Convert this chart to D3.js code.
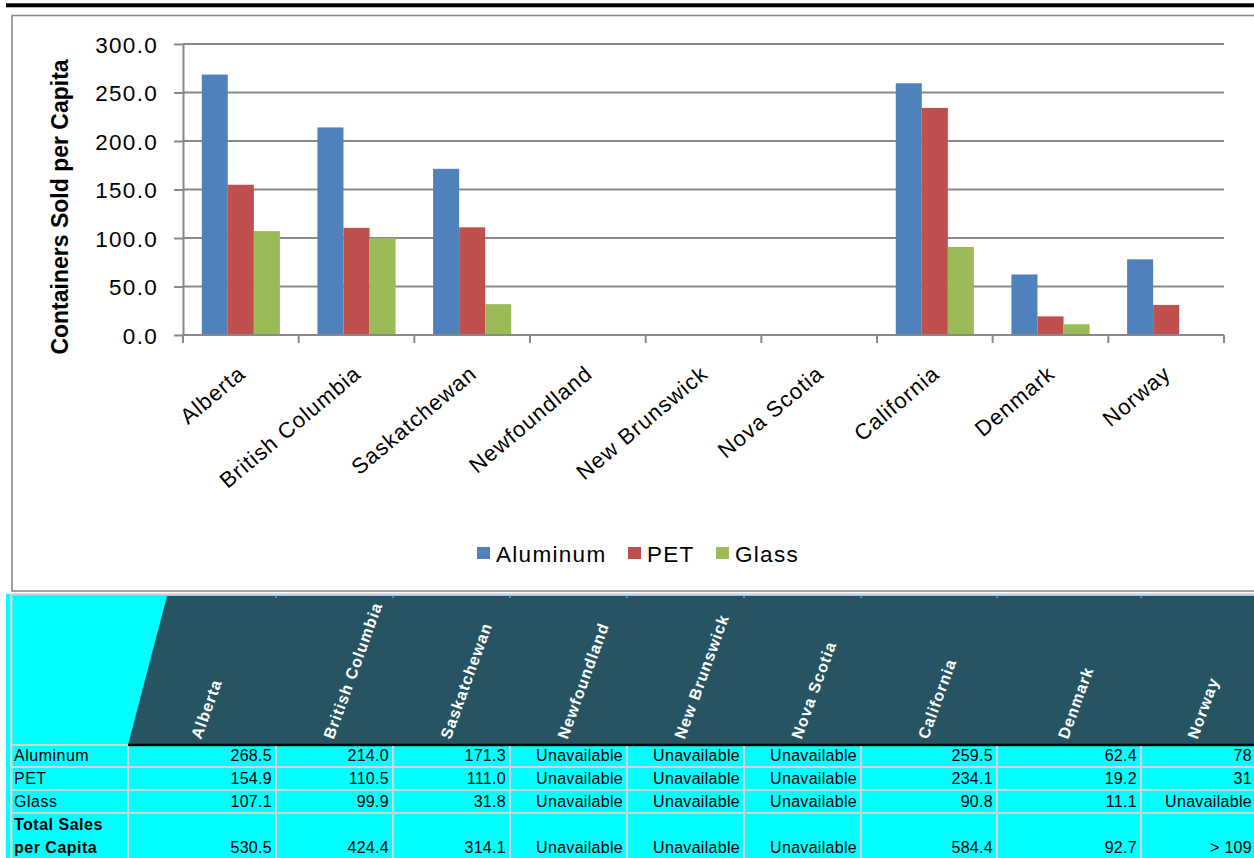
<!DOCTYPE html>
<html>
<head>
<meta charset="utf-8">
<script src="https://cdn.jsdelivr.net/npm/d3@7"></script>
<style>
  html, body { margin: 0; padding: 0; background: #ffffff; }
  svg { display: block; }
  text { font-family: "Liberation Sans", Arial, Helvetica, sans-serif; }
</style>
</head>
<body>
<svg id="chart" width="1254" height="858"></svg>
<script>
// ---------------- DATA ----------------
const categories = ["Alberta", "British Columbia", "Saskatchewan", "Newfoundland", "New Brunswick", "Nova Scotia", "California", "Denmark", "Norway"];
const seriesNames = ["Aluminum", "PET", "Glass"];
const aluminum = [268.5, 214.0, 171.3, null, null, null, 259.5, 62.4, 78];
const pet      = [154.9, 110.5, 111.0, null, null, null, 234.1, 19.2, 31];
const glass    = [107.1, 99.9, 31.8, null, null, null, 90.8, 11.1, null];
const totalSales = ["530.5", "424.4", "314.1", null, null, null, "584.4", "92.7", "> 109"];
const tableDecimals = [1, 1, 1, 1, 1, 1, 1, 1, 0];
const yTicks = [0, 50, 100, 150, 200, 250, 300];
const yTitle = "Containers Sold per Capita";
const unavailableText = "Unavailable";
const totalLabel = ["Total Sales", "per Capita"];

// ---------------- STYLE ----------------
const colors = { Aluminum: "#4F81BD", PET: "#C0504D", Glass: "#9BBB59" };
const gridColor = "#898989";
const cyan = "#00FFFF";
const headerDark = "#275463";
const cellLine = "#d3d3d3";

const svg = d3.select("#chart");

// top black rule
svg.append("rect").attr("x", 6).attr("y", 3.3).attr("width", 1260).attr("height", 4).attr("fill", "#000");

// chart frame
svg.append("rect").attr("x", 12).attr("y", 15.5).attr("width", 1260).attr("height", 575.5)
  .attr("fill", "#fff").attr("stroke", "#8a8a8a").attr("stroke-width", 1.6);

// ---------------- CHART ----------------
const plot = { left: 183, right: 1224, top: 44, bottom: 335 };
const x0 = d3.scaleBand().domain(categories).range([plot.left, plot.right]).padding(0);
const x1 = d3.scaleBand().domain(seriesNames).range([0, x0.bandwidth()]).paddingInner(0).paddingOuter(0.72);
const y = d3.scaleLinear().domain([0, 300]).range([plot.bottom, plot.top]);

const seriesData = { Aluminum: aluminum, PET: pet, Glass: glass };

// gridlines
svg.append("g").selectAll("line").data(yTicks.filter(d => d > 0)).join("line")
  .attr("x1", plot.left).attr("x2", plot.right)
  .attr("y1", d => y(d)).attr("y2", d => y(d))
  .attr("stroke", gridColor).attr("stroke-width", 2);

// bars
const barG = svg.append("g");
seriesNames.forEach(s => {
  const vals = seriesData[s];
  barG.append("g").selectAll("rect")
    .data(categories.map((c, i) => ({ c, v: vals[i] })).filter(d => d.v != null))
    .join("rect")
    .attr("x", d => x0(d.c) + x1(s))
    .attr("width", x1.bandwidth())
    .attr("y", d => y(d.v))
    .attr("height", d => y(0) - y(d.v))
    .attr("fill", colors[s]);
});

// y axis
const yAxis = d3.axisLeft(y).tickValues(yTicks).tickSize(9).tickPadding(16)
  .tickSizeOuter(0).tickFormat(d3.format(".1f"));
const yg = svg.append("g").attr("transform", `translate(${plot.left},0)`).call(yAxis);
yg.select(".domain").attr("stroke", gridColor).attr("stroke-width", 2);
yg.selectAll(".tick line").attr("stroke", gridColor).attr("stroke-width", 2);
yg.selectAll(".tick text").attr("font-size", 22.5).attr("fill", "#000")
  .attr("letter-spacing", 1.3).attr("dy", "0.36em")
  .style("font-family", '"Liberation Sans", Arial, sans-serif');

// x axis line + boundary ticks
svg.append("line").attr("x1", plot.left).attr("x2", plot.right)
  .attr("y1", y(0)).attr("y2", y(0)).attr("stroke", gridColor).attr("stroke-width", 2);
const boundaries = categories.map(c => x0(c)).concat([x0.range()[1]]);
svg.append("g").selectAll("line").data(boundaries).join("line")
  .attr("x1", d => d).attr("x2", d => d)
  .attr("y1", y(0)).attr("y2", y(0) + 8)
  .attr("stroke", gridColor).attr("stroke-width", 2);

// x labels (rotated)
svg.append("g").selectAll("text").data(categories).join("text")
  .attr("transform", d => `translate(${x0(d) + x0.bandwidth() / 2 + 6},${y(0) + 41}) rotate(-40)`)
  .attr("text-anchor", "end")
  .attr("font-size", 22)
  .attr("letter-spacing", 1)
  .attr("fill", "#000")
  .text(d => d);

// y title
svg.append("text")
  .attr("transform", "translate(68,207) rotate(-90)")
  .attr("text-anchor", "middle")
  .attr("font-size", 23)
  .attr("font-weight", "bold")
  .attr("fill", "#000")
  .text(yTitle);

// legend
const legendPos = [477, 628, 716];
const legend = svg.append("g");
seriesNames.forEach((s, i) => {
  const g = legend.append("g").attr("transform", `translate(${legendPos[i]},0)`);
  g.append("rect").attr("x", 0).attr("y", 547).attr("width", 13).attr("height", 12).attr("fill", colors[s]);
  g.append("text").attr("x", 19).attr("y", 561.5).attr("font-size", 22.5)
    .attr("letter-spacing", 1.3).attr("fill", "#000").text(s);
});

// ---------------- TABLE ----------------
const tableLeft = 12;
const firstColRight = 128;
const colWidths = [148, 117, 117, 117, 117, 117, 136, 144, 115];
const colEdges = [firstColRight];
colWidths.forEach(w => colEdges.push(colEdges[colEdges.length - 1] + w));
const tableRight = colEdges[colEdges.length - 1];
const headTop = 596, headBottom = 745;
const rowEdges = [745, 767, 790, 813, 870];

const table = svg.append("g");
// cyan background
table.append("rect").attr("x", 6).attr("y", 594).attr("width", 4.5).attr("height", 270).attr("fill", cyan);
table.append("rect").attr("x", tableLeft).attr("y", 594).attr("width", tableRight - tableLeft + 10).attr("height", 270).attr("fill", cyan);
// header dark trapezoid
table.append("polygon")
  .attr("points", [[167, headTop], [tableRight + 10, headTop], [tableRight + 10, headBottom], [firstColRight, headBottom]].map(p => p.join(",")).join(" "))
  .attr("fill", headerDark);
// top line & left line
table.append("line").attr("x1", tableLeft).attr("x2", 1260).attr("y1", 594.3).attr("y2", 594.3)
  .attr("stroke", cellLine).attr("stroke-width", 2);
table.append("line").attr("x1", 11.5).attr("x2", 11.5).attr("y1", 593).attr("y2", 858)
  .attr("stroke", cellLine).attr("stroke-width", 2);
// small cyan tick marks at column boundaries in header
table.append("g").selectAll("line").data(colEdges.slice(1, -1)).join("line")
  .attr("x1", d => d).attr("x2", d => d).attr("y1", 595).attr("y2", 598)
  .attr("stroke", cyan).attr("stroke-width", 1);
// row lines
table.append("g").selectAll("line").data(rowEdges.slice(1, -1)).join("line")
  .attr("x1", tableLeft).attr("x2", 1260).attr("y1", d => d).attr("y2", d => d)
  .attr("stroke", cellLine).attr("stroke-width", 2);
table.append("line").attr("x1", tableLeft).attr("x2", firstColRight).attr("y1", headBottom).attr("y2", headBottom)
  .attr("stroke", cellLine).attr("stroke-width", 2);
table.append("line").attr("x1", firstColRight).attr("x2", 1260).attr("y1", headBottom).attr("y2", headBottom)
  .attr("stroke", "#000").attr("stroke-width", 2.5);
// vertical lines
table.append("g").selectAll("line").data(colEdges.slice(0, -1)).join("line")
  .attr("x1", d => d).attr("x2", d => d).attr("y1", headBottom + 1).attr("y2", 858)
  .attr("stroke", cellLine).attr("stroke-width", 2);

// header labels
table.append("g").selectAll("text").data(categories).join("text")
  .attr("transform", (d, i) => `translate(${(colEdges[i] + colEdges[i + 1]) / 2 - 1},${740}) rotate(-70)`)
  .attr("font-size", 16).attr("font-weight", "bold").attr("letter-spacing", 1)
  .attr("fill", "#fff")
  .text(d => d);

// row labels
const rowBaselines = [761, 784, 807];
seriesNames.forEach((s, r) => {
  table.append("text").attr("x", 14).attr("y", rowBaselines[r]).attr("font-size", 16)
    .attr("letter-spacing", 0.5).attr("fill", "#000").text(s);
  const vals = seriesData[s];
  table.append("g").selectAll("text").data(categories).join("text")
    .attr("x", (d, i) => colEdges[i + 1] - 4)
    .attr("y", rowBaselines[r])
    .attr("text-anchor", "end").attr("font-size", 16).attr("letter-spacing", 0.3).attr("fill", "#000")
    .text((d, i) => vals[i] == null ? unavailableText : vals[i].toFixed(tableDecimals[i]));
});
table.append("text").attr("x", 14).attr("y", 830).attr("font-size", 16).attr("font-weight", "bold")
  .attr("letter-spacing", 0.5).attr("fill", "#000").text(totalLabel[0]);
table.append("text").attr("x", 14).attr("y", 853).attr("font-size", 16).attr("font-weight", "bold")
  .attr("letter-spacing", 0.5).attr("fill", "#000").text(totalLabel[1]);
table.append("g").selectAll("text").data(categories).join("text")
  .attr("x", (d, i) => colEdges[i + 1] - 4)
  .attr("y", 853)
  .attr("text-anchor", "end").attr("font-size", 16).attr("letter-spacing", 0.3).attr("fill", "#000")
  .text((d, i) => totalSales[i] == null ? unavailableText : totalSales[i]);
</script>
</body>
</html>
